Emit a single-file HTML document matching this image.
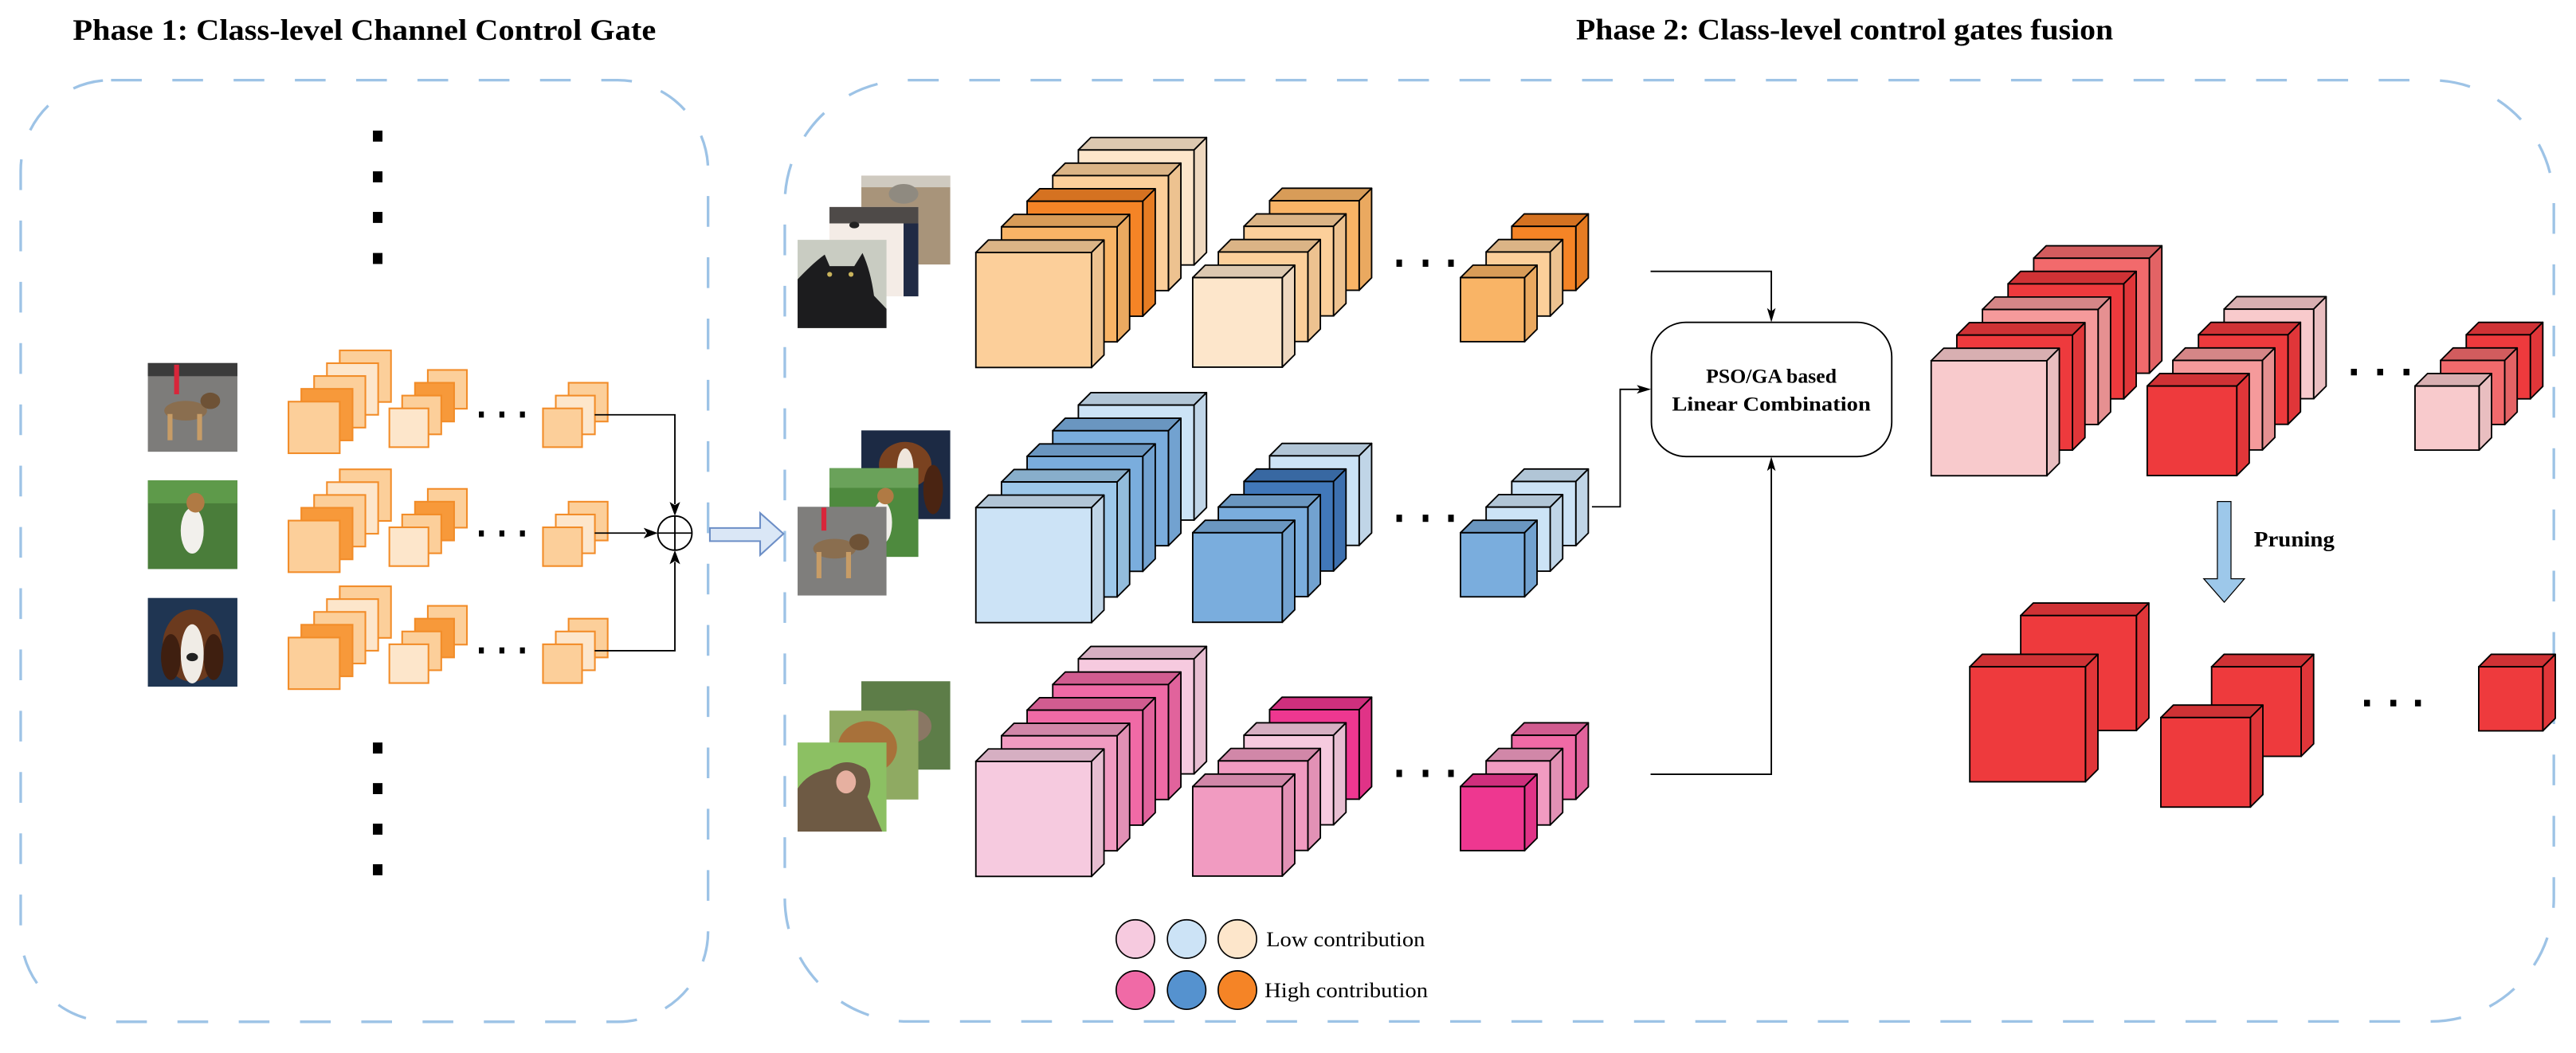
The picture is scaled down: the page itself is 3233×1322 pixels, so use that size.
<!DOCTYPE html>
<html><head><meta charset="utf-8"><style>html,body{margin:0;padding:0;background:#fff}svg{display:block}</style></head>
<body>
<svg width="3233" height="1322" viewBox="0 0 1568 641" preserveAspectRatio="none" xmlns="http://www.w3.org/2000/svg" xmlns:xlink="http://www.w3.org/1999/xlink">
<defs>
<g id="L">
<path d="M0,0L7.6,-7.6H78L70.4,0Z" fill="currentColor"/>
<path d="M0,0L7.6,-7.6H78L70.4,0Z" fill="#000" fill-opacity=".13" stroke="#000" stroke-width=".9" stroke-linejoin="round"/>
<path d="M70.4,0L78,-7.6V62.4L70.4,70Z" fill="currentColor"/>
<path d="M70.4,0L78,-7.6V62.4L70.4,70Z" fill="#000" fill-opacity=".06" stroke="#000" stroke-width=".9" stroke-linejoin="round"/>
<rect width="70.4" height="70" fill="currentColor" stroke="#000" stroke-width=".9"/>
</g>
<g id="M">
<path d="M0,0L7.6,-7.6H62.1L54.5,0Z" fill="currentColor"/>
<path d="M0,0L7.6,-7.6H62.1L54.5,0Z" fill="#000" fill-opacity=".13" stroke="#000" stroke-width=".9" stroke-linejoin="round"/>
<path d="M54.5,0L62.1,-7.6V46.9L54.5,54.5Z" fill="currentColor"/>
<path d="M54.5,0L62.1,-7.6V46.9L54.5,54.5Z" fill="#000" fill-opacity=".06" stroke="#000" stroke-width=".9" stroke-linejoin="round"/>
<rect width="54.5" height="54.5" fill="currentColor" stroke="#000" stroke-width=".9"/>
</g>
<g id="S">
<path d="M0,0L7.6,-7.6H46.6L39,0Z" fill="currentColor"/>
<path d="M0,0L7.6,-7.6H46.6L39,0Z" fill="#000" fill-opacity=".13" stroke="#000" stroke-width=".9" stroke-linejoin="round"/>
<path d="M39,0L46.6,-7.6V31.4L39,39Z" fill="currentColor"/>
<path d="M39,0L46.6,-7.6V31.4L39,39Z" fill="#000" fill-opacity=".06" stroke="#000" stroke-width=".9" stroke-linejoin="round"/>
<rect width="39" height="39" fill="currentColor" stroke="#000" stroke-width=".9"/>
</g>
<!-- phase1 row -->
<g id="p1row" stroke="#F28C28" stroke-width="1">
<rect x="206.8" y="213.3" width="31.2" height="31.4" fill="#FCCF9A"/>
<rect x="199" y="221.1" width="31.2" height="31.4" fill="#FDE6CB"/>
<rect x="191.2" y="228.9" width="31.2" height="31.4" fill="#FCCF9A"/>
<rect x="183.4" y="236.7" width="31.2" height="31.4" fill="#F7993A"/>
<rect x="175.6" y="244.5" width="31.2" height="31.4" fill="#FCCF9A"/>
<rect x="260.4" y="225.2" width="23.8" height="23.6" fill="#FCCF9A"/>
<rect x="252.6" y="233" width="23.8" height="23.6" fill="#F7993A"/>
<rect x="244.8" y="240.8" width="23.8" height="23.6" fill="#FCCF9A"/>
<rect x="237" y="248.6" width="23.8" height="23.6" fill="#FDE6CB"/>
<rect x="346.1" y="233" width="23.8" height="23.6" fill="#FCCF9A"/>
<rect x="338.3" y="240.8" width="23.8" height="23.6" fill="#FDE6CB"/>
<rect x="330.5" y="248.6" width="23.8" height="23.6" fill="#FCCF9A"/>
<g fill="#000" stroke="none">
<rect x="291.5" y="250.5" width="3" height="3.7"/><rect x="304" y="250.5" width="3" height="3.7"/><rect x="316.5" y="250.5" width="3" height="3.7"/>
</g>
</g>
</defs>

<!-- Titles -->
<text x="44.3" y="24.2" font-family="Liberation Serif, serif" font-weight="bold" font-size="18" textLength="355" lengthAdjust="spacingAndGlyphs">Phase 1:  Class-level Channel Control Gate</text>
<text x="959.3" y="24.1" font-family="Liberation Serif, serif" font-weight="bold" font-size="18" textLength="327" lengthAdjust="spacingAndGlyphs">Phase 2: Class-level control gates fusion</text>

<!-- dashed boxes -->
<rect x="12.6" y="48.8" width="418.4" height="573.2" rx="55" ry="55" fill="none" stroke="#9DC3E6" stroke-width="1.6" stroke-dasharray="18.7 18.6"/>
<rect x="477.7" y="48.8" width="1076.8" height="573" rx="75" ry="75" fill="none" stroke="#9DC3E6" stroke-width="1.6" stroke-dasharray="18.7 18.6"/>

<!-- phase1 vertical dots -->
<g fill="#000">
<rect x="227" y="79.5" width="5.8" height="6.7"/><rect x="227" y="104.3" width="5.8" height="6.7"/><rect x="227" y="129" width="5.8" height="6.7"/><rect x="227" y="154" width="5.8" height="6.7"/>
<rect x="227" y="452" width="5.8" height="6.7"/><rect x="227" y="476.7" width="5.8" height="6.7"/><rect x="227" y="501.4" width="5.8" height="6.7"/><rect x="227" y="526.1" width="5.8" height="6.7"/>
</g>

<!-- phase1 images -->
<g>
<rect x="90" y="221" width="54.5" height="54" fill="#7d7c7a"/>
<rect x="90" y="221" width="54.5" height="8" fill="#3b3b3b"/>
<ellipse cx="113" cy="250" rx="13" ry="6" fill="#8a6e4f"/>
<rect x="102" y="252" width="3" height="16" fill="#c79c66"/><rect x="120" y="252" width="3" height="16" fill="#c79c66"/>
<ellipse cx="128" cy="244" rx="6" ry="5" fill="#6e5236"/>
<rect x="106" y="222" width="3" height="18" fill="#d8263a"/>
</g>
<g>
<rect x="90" y="292.4" width="54.5" height="54" fill="#4a7d3a"/>
<rect x="90" y="292.4" width="54.5" height="14" fill="#5e9a4a"/>
<ellipse cx="117" cy="323" rx="7" ry="14" fill="#f2f0ec"/>
<ellipse cx="119" cy="306" rx="5.5" ry="6" fill="#b07a44"/>
</g>
<g>
<rect x="90" y="364" width="54.5" height="54" fill="#1f3552"/>
<ellipse cx="117" cy="393" rx="18" ry="22" fill="#6b3a1e"/>
<ellipse cx="117" cy="398" rx="7" ry="18" fill="#f0ece6"/>
<ellipse cx="104" cy="400" rx="6" ry="14" fill="#3f1f10"/><ellipse cx="130" cy="400" rx="6" ry="14" fill="#3f1f10"/>
<ellipse cx="117" cy="400" rx="3.5" ry="2.5" fill="#222"/>
</g>

<!-- phase1 stacks -->
<use xlink:href="#p1row" href="#p1row"/>
<use xlink:href="#p1row" href="#p1row" y="72.4"/>
<use xlink:href="#p1row" href="#p1row" y="143.6"/>

<!-- phase1 connectors -->
<g stroke="#000" stroke-width="0.9" fill="none">
<path d="M362,252.5H410.8V307"/>
<path d="M362,324.5H393"/>
<path d="M362,396.1H410.8V342"/>
<circle cx="410.8" cy="324.5" r="10.4"/>
<path d="M400.4,324.5H421.2M410.8,314.1V334.9"/>
</g>
<g fill="#000">
<path d="M410.8,314.1L407.6,305.5L410.8,307.5L414,305.5Z"/>
<path d="M400.4,324.5L391.8,321.3L393.8,324.5L391.8,327.7Z"/>
<path d="M410.8,334.9L407.6,343.5L410.8,341.5L414,343.5Z"/>
</g>

<!-- hollow arrow -->
<path d="M432.1,321.4H462.7V312.3L476.9,324.9L462.7,337.9V329.4H432.1Z" fill="#DAE7F6" stroke="#6C8EC6" stroke-width="1"/>

<!-- phase2 images -->
<g>
<rect x="524.3" y="107" width="54.1" height="54" fill="#a8947a"/>
<rect x="524.3" y="107" width="54.1" height="7" fill="#cfcac0"/>
<ellipse cx="550" cy="118" rx="9" ry="6" fill="#8f8a80"/>
<rect x="504.9" y="126" width="54.1" height="54.4" fill="#f4ece6"/>
<rect x="504.9" y="126" width="54.1" height="10" fill="#4e4a48"/>
<rect x="550" y="136" width="9" height="44.4" fill="#202a44"/>
<ellipse cx="520" cy="137" rx="3" ry="2" fill="#222"/>
<rect x="485.5" y="146" width="54.1" height="53.7" fill="#c9ccc2"/>
<path d="M485.5,199.7V170Q495,160 502,155L505,162H520L525,154Q530,165 532,180L539.6,188V199.7Z" fill="#1c1c1e"/>
<circle cx="505" cy="167" r="1.5" fill="#c9b35c"/><circle cx="518" cy="167" r="1.5" fill="#c9b35c"/>
</g>
<g>
<rect x="524.3" y="262" width="54.1" height="54" fill="#1c2a44"/>
<ellipse cx="551" cy="283" rx="16" ry="14" fill="#7a4220"/>
<ellipse cx="551" cy="285" rx="5" ry="12" fill="#efe6dc"/>
<ellipse cx="568" cy="298" rx="6" ry="15" fill="#4a2412"/>
<rect x="504.9" y="285" width="54.1" height="54" fill="#4e8a3e"/>
<rect x="504.9" y="285" width="54.1" height="12" fill="#6aa25a"/>
<ellipse cx="537" cy="318" rx="6" ry="13" fill="#f1efea"/>
<ellipse cx="539" cy="302" rx="5" ry="5" fill="#b07a44"/>
<rect x="485.5" y="308.5" width="54.1" height="54" fill="#7f7e7c"/>
<ellipse cx="508" cy="334" rx="13" ry="6" fill="#8a6e4f"/>
<rect x="497" y="336" width="3" height="16" fill="#c79c66"/><rect x="515" y="336" width="3" height="16" fill="#c79c66"/>
<ellipse cx="523" cy="330" rx="6" ry="5" fill="#6e5236"/>
<rect x="500" y="309" width="3" height="14" fill="#d8263a"/>
</g>
<g>
<rect x="524.3" y="414.7" width="54.1" height="53.8" fill="#5d7d48"/>
<ellipse cx="555" cy="442" rx="12" ry="10" fill="#8a7764"/>
<rect x="504.9" y="432.6" width="54.1" height="54.1" fill="#8faa62"/>
<ellipse cx="528" cy="455" rx="18" ry="16" fill="#a8713a"/>
<rect x="485.5" y="452" width="54.1" height="54.2" fill="#8cc063"/>
<path d="M485.5,506.2V480Q492,470 505,468Q515,460 527,468Q532,476 528,485L537,506.2Z" fill="#6e5a44"/>
<ellipse cx="515" cy="476" rx="6" ry="7" fill="#e6b0a0"/>
</g>

<!-- phase2 row1 orange -->
<use href="#L" xlink:href="#L" x="656.4" y="91.3" color="#FDE6CB"/>
<use href="#L" xlink:href="#L" x="640.8" y="106.9" color="#FCCF9A"/>
<use href="#L" xlink:href="#L" x="625.2" y="122.5" color="#F58426"/>
<use href="#L" xlink:href="#L" x="609.6" y="138.1" color="#F9B466"/>
<use href="#L" xlink:href="#L" x="594" y="153.7" color="#FCCF9A"/>
<use href="#M" xlink:href="#M" x="772.8" y="122.2" color="#F9B466"/>
<use href="#M" xlink:href="#M" x="757.2" y="137.8" color="#FCCF9A"/>
<use href="#M" xlink:href="#M" x="741.6" y="153.4" color="#FCCF9A"/>
<use href="#M" xlink:href="#M" x="726" y="169" color="#FDE6CB"/>
<use href="#S" xlink:href="#S" x="920.2" y="137.8" color="#F58426"/>
<use href="#S" xlink:href="#S" x="904.6" y="153.4" color="#FCCF9A"/>
<use href="#S" xlink:href="#S" x="889" y="169" color="#F9B466"/>

<!-- row2 blue -->
<use href="#L" xlink:href="#L" x="656.4" y="246.6" color="#CCE3F6"/>
<use href="#L" xlink:href="#L" x="640.8" y="262.2" color="#7AADDD"/>
<use href="#L" xlink:href="#L" x="625.2" y="277.8" color="#7AADDD"/>
<use href="#L" xlink:href="#L" x="609.6" y="293.4" color="#9DC8EA"/>
<use href="#L" xlink:href="#L" x="594" y="309" color="#CCE3F6"/>
<use href="#M" xlink:href="#M" x="772.8" y="277.5" color="#CCE3F6"/>
<use href="#M" xlink:href="#M" x="757.2" y="293.1" color="#4178BA"/>
<use href="#M" xlink:href="#M" x="741.6" y="308.7" color="#7AADDD"/>
<use href="#M" xlink:href="#M" x="726" y="324.3" color="#7AADDD"/>
<use href="#S" xlink:href="#S" x="920.2" y="293.1" color="#CCE3F6"/>
<use href="#S" xlink:href="#S" x="904.6" y="308.7" color="#CCE3F6"/>
<use href="#S" xlink:href="#S" x="889" y="324.3" color="#7AADDD"/>

<!-- row3 pink -->
<use href="#L" xlink:href="#L" x="656.4" y="401.1" color="#F6CADF"/>
<use href="#L" xlink:href="#L" x="640.8" y="416.7" color="#F06AA6"/>
<use href="#L" xlink:href="#L" x="625.2" y="432.3" color="#F06AA6"/>
<use href="#L" xlink:href="#L" x="609.6" y="447.9" color="#F19BC1"/>
<use href="#L" xlink:href="#L" x="594" y="463.5" color="#F6CADF"/>
<use href="#M" xlink:href="#M" x="772.8" y="432" color="#EE3790"/>
<use href="#M" xlink:href="#M" x="757.2" y="447.6" color="#F6CADF"/>
<use href="#M" xlink:href="#M" x="741.6" y="463.2" color="#F19BC1"/>
<use href="#M" xlink:href="#M" x="726" y="478.8" color="#F19BC1"/>
<use href="#S" xlink:href="#S" x="920.2" y="447.6" color="#F06AA6"/>
<use href="#S" xlink:href="#S" x="904.6" y="463.2" color="#F19BC1"/>
<use href="#S" xlink:href="#S" x="889" y="478.8" color="#EE3790"/>

<!-- dots phase2 -->
<g fill="#000">
<rect x="850" y="158" width="3.4" height="4.4"/><rect x="866" y="158" width="3.4" height="4.4"/><rect x="881.5" y="158" width="3.4" height="4.4"/>
<rect x="850" y="313.3" width="3.4" height="4.4"/><rect x="866" y="313.3" width="3.4" height="4.4"/><rect x="881.5" y="313.3" width="3.4" height="4.4"/>
<rect x="850" y="468.6" width="3.4" height="4.4"/><rect x="866" y="468.6" width="3.4" height="4.4"/><rect x="881.5" y="468.6" width="3.4" height="4.4"/>
<rect x="1431" y="224.5" width="3.6" height="4"/><rect x="1447" y="224.5" width="3.6" height="4"/><rect x="1463" y="224.5" width="3.6" height="4"/>
<rect x="1439" y="426" width="3.6" height="4"/><rect x="1455" y="426" width="3.6" height="4"/><rect x="1470" y="426" width="3.6" height="4"/>
</g>

<!-- connectors phase2 -->
<g stroke="#000" stroke-width="0.9" fill="none">
<path d="M1004.7,165.2H1078.2V190"/>
<path d="M969,308.5H986.2V237H999"/>
<path d="M1004.7,471.3H1078.2V284"/>
</g>
<g fill="#000">
<path d="M1078.2,196.2L1075.6,187.5L1078.2,189.5L1080.8,187.5Z"/>
<path d="M1005,237L996.3,234.4L998.3,237L996.3,239.6Z"/>
<path d="M1078.2,278L1075.6,286.7L1078.2,284.7L1080.8,286.7Z"/>
</g>
<rect x="1005.2" y="196.2" width="146.3" height="81.7" rx="21" ry="21" fill="#fff" stroke="#000" stroke-width="0.9"/>
<text x="1078.2" y="233" text-anchor="middle" font-family="Liberation Serif, serif" font-weight="bold" font-size="12.5">PSO/GA based</text>
<text x="1078.2" y="250" text-anchor="middle" font-family="Liberation Serif, serif" font-weight="bold" font-size="12.5" textLength="121" lengthAdjust="spacingAndGlyphs">Linear Combination</text>

<!-- red top -->
<use href="#L" xlink:href="#L" x="1237.9" y="157.2" color="#F26A6C"/>
<use href="#L" xlink:href="#L" x="1222.3" y="172.8" color="#EE3A3D"/>
<use href="#L" xlink:href="#L" x="1206.7" y="188.4" color="#F59A9B"/>
<use href="#L" xlink:href="#L" x="1191.1" y="204" color="#EE3A3D"/>
<use href="#L" xlink:href="#L" x="1175.5" y="219.6" color="#F8CACC"/>
<use href="#M" xlink:href="#M" x="1353.8" y="188.2" color="#F8CACC"/>
<use href="#M" xlink:href="#M" x="1338.2" y="203.8" color="#EE3A3D"/>
<use href="#M" xlink:href="#M" x="1322.6" y="219.4" color="#F59A9B"/>
<use href="#M" xlink:href="#M" x="1307" y="235" color="#EE3A3D"/>
<use href="#S" xlink:href="#S" x="1501.2" y="203.8" color="#EE3A3D"/>
<use href="#S" xlink:href="#S" x="1485.6" y="219.4" color="#F26A6C"/>
<use href="#S" xlink:href="#S" x="1470" y="235" color="#F8CACC"/>

<!-- pruning arrow -->
<path d="M1349.7,305.3H1358V352.3H1366.2L1353.9,366.6L1341.4,352.3H1349.7Z" fill="#9DC8EA" stroke="#000" stroke-width="0.6"/>
<text x="1372" y="332.7" font-family="Liberation Serif, serif" font-weight="bold" font-size="13.5" textLength="49" lengthAdjust="spacingAndGlyphs">Pruning</text>

<!-- pruned -->
<use href="#L" xlink:href="#L" x="1230" y="374.7" color="#EE3A3D"/>
<use href="#L" xlink:href="#L" x="1199" y="405.9" color="#EE3A3D"/>
<use href="#M" xlink:href="#M" x="1346.2" y="405.9" color="#EE3A3D"/>
<use href="#M" xlink:href="#M" x="1315.3" y="436.8" color="#EE3A3D"/>
<use href="#S" xlink:href="#S" x="1508.8" y="405.9" color="#EE3A3D"/>

<!-- legend -->
<g stroke="#000" stroke-width="0.8">
<circle cx="691.1" cy="571.6" r="11.7" fill="#F6CADF"/>
<circle cx="722.3" cy="571.6" r="11.7" fill="#CCE3F6"/>
<circle cx="753.2" cy="571.6" r="11.7" fill="#FDE6CB"/>
<circle cx="691.1" cy="602.7" r="11.7" fill="#F06AA6"/>
<circle cx="722.3" cy="602.7" r="11.7" fill="#5592CF"/>
<circle cx="753.2" cy="602.7" r="11.7" fill="#F58426"/>
</g>
<text x="770.7" y="576" font-family="Liberation Serif, serif" font-size="13" textLength="96.7" lengthAdjust="spacingAndGlyphs">Low contribution</text>
<text x="769.7" y="607" font-family="Liberation Serif, serif" font-size="13" textLength="99.5" lengthAdjust="spacingAndGlyphs">High contribution</text>
</svg>
</body></html>
